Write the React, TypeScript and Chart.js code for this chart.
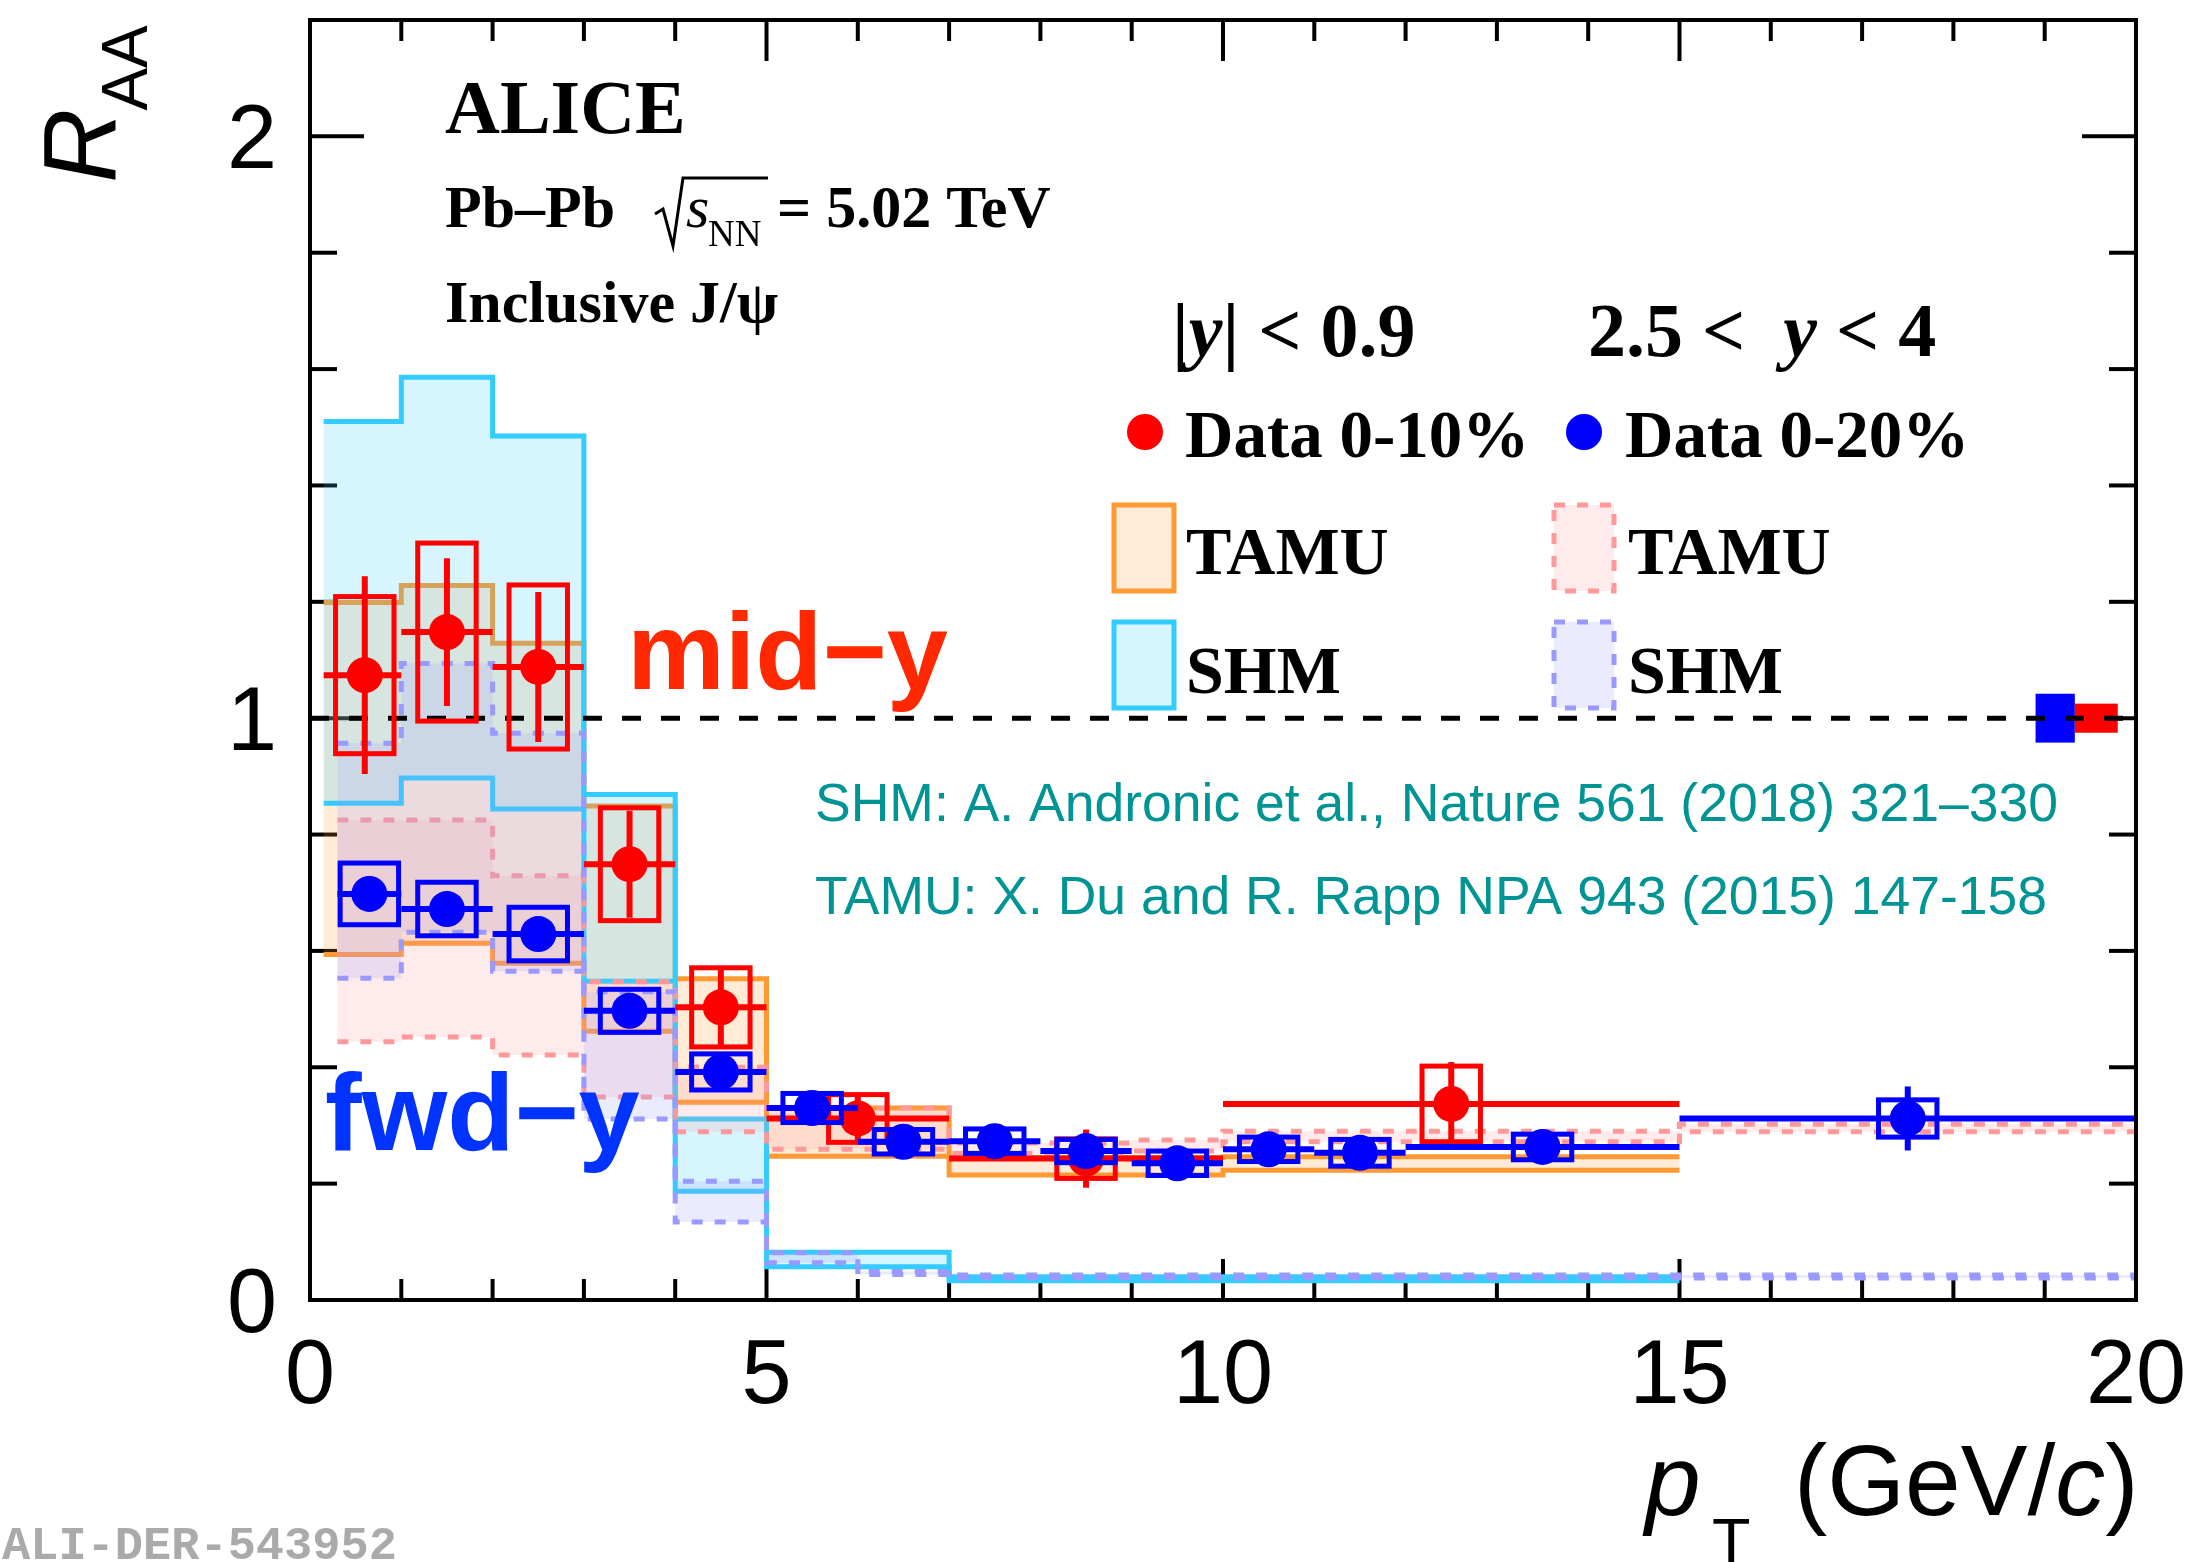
import React, { useEffect, useRef } from 'react';
import { Chart, registerables } from 'chart.js';

Chart.register(...registerables);

// ---------------- Axis ranges and tick labels ----------------
const xRange = [0, 20];
const yRange = [0, 2.2];
const xTickLabels = [0, 5, 10, 15, 20];
const yTickLabels = [0, 1, 2];
const xMinorStep = 1;
const yMinorStep = 0.2;

// ---------------- Data: mid-rapidity, 0-10% (red) ----------------
const midBinLo = [0.15, 1, 2, 3, 4, 5, 7, 10];
const midBinHi = [1, 2, 3, 4, 5, 7, 10, 15];
const midPt = [0.6, 1.5, 2.5, 3.5, 4.5, 6.0, 8.5, 12.5];
const midRaa = [1.074, 1.148, 1.088, 0.749, 0.503, 0.312, 0.243, 0.337];
const midStat = [0.17, 0.127, 0.129, 0.092, 0.066, 0.04, 0.05, 0.072];
const midSys = [0.135, 0.153, 0.141, 0.097, 0.068, 0.041, 0.034, 0.065];

// ---------------- Data: forward rapidity, 0-20% (blue) ----------------
const fwdBinLo = [0.3, 1, 2, 3, 4, 5, 6, 7, 8, 9, 10, 11, 12, 15];
const fwdBinHi = [1, 2, 3, 4, 5, 6, 7, 8, 9, 10, 11, 12, 15, 20];
const fwdPt = [0.65, 1.5, 2.5, 3.5, 4.5, 5.5, 6.5, 7.5, 8.5, 9.5, 10.5, 11.5, 13.5, 17.5];
const fwdRaa = [0.698, 0.672, 0.629, 0.497, 0.392, 0.33, 0.272, 0.273, 0.256, 0.235, 0.259, 0.253, 0.263, 0.312];
const fwdStat = [0.03, 0.025, 0.025, 0.02, 0.015, 0.012, 0.01, 0.01, 0.012, 0.012, 0.012, 0.014, 0.016, 0.055];
const fwdSys = [0.053, 0.046, 0.046, 0.037, 0.031, 0.025, 0.021, 0.021, 0.02, 0.021, 0.021, 0.023, 0.022, 0.032];
const sysBoxHalfWidth = 0.32;

// ---------------- Model bands ----------------
const tamuMidEdges = [0.15, 1, 2, 3, 4, 5, 7, 10, 15];
const tamuMidLo = [0.594, 0.613, 0.579, 0.462, 0.34, 0.247, 0.215, 0.223];
const tamuMidHi = [1.199, 1.228, 1.129, 0.849, 0.552, 0.33, 0.245, 0.246];

const shmMidEdges = [0.15, 1, 2, 3, 4, 5, 7, 15];
const shmMidLo = [0.854, 0.897, 0.844, 0.548, 0.187, 0.057, 0.033];
const shmMidHi = [1.51, 1.586, 1.485, 0.869, 0.311, 0.082, 0.04];

const tamuFwdEdges = [0.3, 1, 2, 3, 4, 5, 7, 9, 10, 15, 20];
const tamuFwdLo = [0.444, 0.452, 0.421, 0.349, 0.289, 0.259, 0.252, 0.256, 0.272, 0.289];
const tamuFwdHi = [0.825, 0.825, 0.729, 0.547, 0.4, 0.33, 0.27, 0.275, 0.29, 0.302];

const shmFwdEdges = [0.3, 1, 2, 3, 4, 5, 6, 7, 20];
const shmFwdLo = [0.553, 0.632, 0.565, 0.311, 0.134, 0.064, 0.044, 0.038];
const shmFwdHi = [0.957, 1.094, 0.974, 0.53, 0.204, 0.081, 0.049, 0.043];

// ---------------- Normalisation boxes at R_AA = 1 ----------------
const normBoxLo = [18.9, 19.33];
const normBoxHi = [19.33, 19.8];
const normBoxErr = [0.042, 0.025];

const RED = '#ff0000';
const BLUE = '#0000ff';
const SERIF = '"Liberation Serif", "Times New Roman", serif';
const SANS = '"Liberation Sans", Arial, sans-serif';

function drawBand(ctx: CanvasRenderingContext2D, xs: any, ys: any, edges: number[], lo: number[], hi: number[], stroke: string, fill: string, dash: number[]) {
  const px = (v: number) => xs.getPixelForValue(v);
  const py = (v: number) => ys.getPixelForValue(v);
  ctx.save();
  ctx.beginPath();
  for (let i = 0; i < hi.length; i++) {
    if (i === 0) ctx.moveTo(px(edges[i]), py(hi[i]));
    else ctx.lineTo(px(edges[i]), py(hi[i]));
    ctx.lineTo(px(edges[i + 1]), py(hi[i]));
  }
  for (let i = lo.length - 1; i >= 0; i--) {
    ctx.lineTo(px(edges[i + 1]), py(lo[i]));
    ctx.lineTo(px(edges[i]), py(lo[i]));
  }
  ctx.closePath();
  ctx.fillStyle = fill;
  ctx.fill();
  ctx.strokeStyle = stroke;
  ctx.lineWidth = 5;
  ctx.setLineDash(dash);
  for (const arr of [hi, lo]) {
    ctx.beginPath();
    for (let i = 0; i < arr.length; i++) {
      if (i === 0) ctx.moveTo(px(edges[i]), py(arr[i]));
      else ctx.lineTo(px(edges[i]), py(arr[i]));
      ctx.lineTo(px(edges[i + 1]), py(arr[i]));
    }
    ctx.stroke();
  }
  ctx.restore();
}

function line(ctx: CanvasRenderingContext2D, x0: number, y0: number, x1: number, y1: number) {
  ctx.beginPath();
  ctx.moveTo(x0, y0);
  ctx.lineTo(x1, y1);
  ctx.stroke();
}

type Part = { t: string; f: string; dy?: number; c?: string; gap?: number };
function runs(ctx: CanvasRenderingContext2D, x: number, y: number, parts: Part[]) {
  let cx = x;
  for (const p of parts) {
    ctx.font = p.f;
    ctx.fillStyle = p.c || '#000';
    ctx.fillText(p.t, cx, y + (p.dy || 0));
    cx += ctx.measureText(p.t).width + (p.gap || 0);
  }
  return cx;
}

const alicePlugin = {
  id: 'alicePlugin',
  beforeDatasetsDraw(chart: any) {
    const { ctx, chartArea: a } = chart;
    const xs = chart.scales.x;
    const ys = chart.scales.y;
    ctx.save();
    // ticks (inside the frame, all four sides)
    ctx.strokeStyle = '#000';
    ctx.lineWidth = 4;
    const nY = Math.round((yRange[1] - yRange[0]) / yMinorStep);
    for (let i = 0; i <= nY; i++) {
      const v = yRange[0] + i * yMinorStep;
      const major = yTickLabels.some((t) => Math.abs(t - v) < 1e-6);
      const len = major ? 54 : 27;
      const py = ys.getPixelForValue(v);
      line(ctx, a.left, py, a.left + len, py);
      line(ctx, a.right, py, a.right - len, py);
    }
    const nX = Math.round((xRange[1] - xRange[0]) / xMinorStep);
    for (let i = 0; i <= nX; i++) {
      const v = xRange[0] + i * xMinorStep;
      const major = xTickLabels.some((t) => Math.abs(t - v) < 1e-6);
      const len = major ? 41 : 21;
      const px = xs.getPixelForValue(v);
      line(ctx, px, a.bottom, px, a.bottom - len);
      line(ctx, px, a.top, px, a.top + len);
    }
    ctx.restore();

    // model bands
    drawBand(ctx, xs, ys, tamuMidEdges, tamuMidLo, tamuMidHi, '#ff9933', 'rgba(255,153,51,0.2)', []);
    drawBand(ctx, xs, ys, shmMidEdges, shmMidLo, shmMidHi, '#33ccff', 'rgba(51,204,255,0.2)', []);
    drawBand(ctx, xs, ys, tamuFwdEdges, tamuFwdLo, tamuFwdHi, '#ff9999', 'rgba(255,153,153,0.2)', [11, 12]);
    drawBand(ctx, xs, ys, shmFwdEdges, shmFwdLo, shmFwdHi, '#9999ff', 'rgba(153,153,255,0.2)', [11, 12]);

    // normalisation boxes
    ctx.save();
    const normColors = [BLUE, RED];
    for (let i = 0; i < normBoxLo.length; i++) {
      const x0 = xs.getPixelForValue(normBoxLo[i]);
      const x1 = xs.getPixelForValue(normBoxHi[i]);
      const y0 = ys.getPixelForValue(1 + normBoxErr[i]);
      const y1 = ys.getPixelForValue(1 - normBoxErr[i]);
      ctx.fillStyle = normColors[i];
      ctx.fillRect(x0, y0, x1 - x0, y1 - y0);
    }
    // dashed unity line
    ctx.strokeStyle = '#000';
    ctx.lineWidth = 5;
    ctx.setLineDash([19, 20]);
    const p1 = ys.getPixelForValue(1);
    line(ctx, a.left, p1, a.right, p1);
    ctx.restore();
  },
  beforeDatasetDraw(chart: any, args: any) {
    const { ctx } = chart;
    const xs = chart.scales.x;
    const ys = chart.scales.y;
    const isFwd = args.index === 0;
    const pt = isFwd ? fwdPt : midPt;
    const raa = isFwd ? fwdRaa : midRaa;
    const stat = isFwd ? fwdStat : midStat;
    const sys = isFwd ? fwdSys : midSys;
    const bLo = isFwd ? fwdBinLo : midBinLo;
    const bHi = isFwd ? fwdBinHi : midBinHi;
    const col = isFwd ? BLUE : RED;
    ctx.save();
    ctx.strokeStyle = col;
    for (let i = 0; i < pt.length; i++) {
      const x0 = xs.getPixelForValue(pt[i] - sysBoxHalfWidth);
      const x1 = xs.getPixelForValue(pt[i] + sysBoxHalfWidth);
      const yTop = ys.getPixelForValue(raa[i] + sys[i]);
      const yBot = ys.getPixelForValue(raa[i] - sys[i]);
      ctx.lineWidth = 5;
      ctx.strokeRect(x0, yTop, x1 - x0, yBot - yTop);
      ctx.lineWidth = 6;
      const pxc = xs.getPixelForValue(pt[i]);
      const pyc = ys.getPixelForValue(raa[i]);
      line(ctx, pxc, ys.getPixelForValue(raa[i] + stat[i]), pxc, ys.getPixelForValue(raa[i] - stat[i]));
      line(ctx, xs.getPixelForValue(bLo[i]), pyc, xs.getPixelForValue(bHi[i]), pyc);
    }
    ctx.restore();
  },
  afterDraw(chart: any) {
    const { ctx, chartArea: a } = chart;
    const xs = chart.scales.x;
    const ys = chart.scales.y;
    ctx.save();
    // frame
    ctx.strokeStyle = '#000';
    ctx.lineWidth = 4;
    ctx.strokeRect(a.left, a.top, a.right - a.left, a.bottom - a.top);

    // tick labels
    ctx.fillStyle = '#000';
    ctx.font = `90px ${SANS}`;
    ctx.textAlign = 'right';
    ctx.textBaseline = 'alphabetic';
    for (const v of yTickLabels) {
      ctx.fillText(String(v), 277, ys.getPixelForValue(v) + 32);
    }
    ctx.textAlign = 'center';
    for (const v of xTickLabels) {
      ctx.fillText(String(v), xs.getPixelForValue(v), 1403);
    }
    ctx.textAlign = 'left';

    // axis titles
    ctx.save();
    ctx.translate(116, 183);
    ctx.rotate(-Math.PI / 2);
    ctx.font = `italic 103px ${SANS}`;
    ctx.fillText('R', 0, 0);
    const wR = ctx.measureText('R').width;
    ctx.font = `64px ${SANS}`;
    ctx.fillText('AA', wR - 2, 31);
    ctx.restore();

    ctx.font = `italic 100px ${SANS}`;
    ctx.fillText('p', 1645, 1515);
    ctx.font = `63px ${SANS}`;
    ctx.fillText('T', 1712, 1562);
    runs(ctx, 1794, 1515, [
      { t: '(GeV/', f: `100px ${SANS}` },
      { t: 'c', f: `italic 100px ${SANS}` },
      { t: ')', f: `100px ${SANS}` },
    ]);

    // header texts
    ctx.font = `bold 76px ${SERIF}`;
    ctx.fillText('ALICE', 445, 133);
    ctx.font = `bold 60px ${SERIF}`;
    ctx.fillText('Pb\u2013Pb', 445, 227);
    // radical
    ctx.lineWidth = 3;
    ctx.beginPath();
    ctx.moveTo(655, 214);
    ctx.lineTo(663, 209);
    ctx.lineTo(673, 246);
    ctx.lineTo(683, 178);
    ctx.lineTo(768, 178);
    ctx.stroke();
    ctx.font = `italic 60px ${SERIF}`;
    ctx.fillText('s', 686, 227);
    ctx.font = `37px ${SERIF}`;
    ctx.fillText('NN', 708, 246);
    ctx.font = `bold 60px ${SERIF}`;
    ctx.fillText('= 5.02 TeV', 777, 227);
    ctx.fillText('Inclusive J/\u03c8', 445, 322);

    // rapidity labels
    runs(ctx, 1172, 356, [
      { t: '|', f: `bold 76px ${SERIF}` },
      { t: 'y', f: `italic bold 76px ${SERIF}` },
      { t: '| < 0.9', f: `bold 76px ${SERIF}` },
    ]);
    runs(ctx, 1588, 356, [
      { t: '2.5 <  ', f: `bold 76px ${SERIF}` },
      { t: 'y', f: `italic bold 76px ${SERIF}` },
      { t: ' < 4', f: `bold 76px ${SERIF}` },
    ]);

    // legend
    ctx.fillStyle = RED;
    ctx.beginPath();
    ctx.arc(1145, 432, 18, 0, Math.PI * 2);
    ctx.fill();
    ctx.fillStyle = BLUE;
    ctx.beginPath();
    ctx.arc(1584, 432, 18, 0, Math.PI * 2);
    ctx.fill();
    ctx.fillStyle = '#000';
    ctx.font = `bold 67px ${SERIF}`;
    ctx.fillText('Data 0-10%', 1185, 457);
    ctx.fillText('Data 0-20%', 1625, 457);

    const legBox = (x: number, y: number, stroke: string, fill: string, dash: number[]) => {
      ctx.save();
      ctx.fillStyle = fill;
      ctx.fillRect(x, y, 60, 86);
      ctx.strokeStyle = stroke;
      ctx.lineWidth = 5;
      ctx.setLineDash(dash);
      ctx.strokeRect(x, y, 60, 86);
      ctx.restore();
    };
    legBox(1114, 505, '#ff9933', 'rgba(255,153,51,0.2)', []);
    legBox(1554, 505, '#ff9999', 'rgba(255,153,153,0.2)', [11, 12]);
    legBox(1114, 622, '#33ccff', 'rgba(51,204,255,0.2)', []);
    legBox(1554, 622, '#9999ff', 'rgba(153,153,255,0.2)', [11, 12]);
    ctx.fillStyle = '#000';
    ctx.font = `bold 68px ${SERIF}`;
    ctx.fillText('TAMU', 1186, 574);
    ctx.fillText('TAMU', 1628, 574);
    ctx.fillText('SHM', 1186, 693);
    ctx.fillText('SHM', 1628, 693);

    // mid-y / fwd-y labels
    ctx.font = `bold 110px ${SANS}`;
    ctx.fillStyle = 'rgb(255,40,0)';
    ctx.fillText('mid\u2212y', 627, 689);
    ctx.fillStyle = 'rgb(0,51,255)';
    ctx.fillText('fwd\u2212y', 325, 1150);

    // references
    ctx.fillStyle = 'rgb(0,148,148)';
    ctx.font = `53.5px ${SANS}`;
    ctx.fillText('SHM: A. Andronic et al., Nature 561 (2018) 321\u2013330', 815, 821);
    ctx.fillText('TAMU: X. Du and R. Rapp NPA 943 (2015) 147-158', 815, 914);

    // figure id
    ctx.fillStyle = '#aaaaaa';
    ctx.font = `bold 47px "Liberation Mono", monospace`;
    ctx.fillText('ALI-DER-543952', 2, 1559);
    ctx.restore();
  },
};

export default function App() {
  const ref = useRef<HTMLCanvasElement | null>(null);
  useEffect(() => {
    document.body.style.margin = '0';
    document.body.style.overflow = 'hidden';
    const canvas = ref.current;
    if (!canvas) return;
    const chart = new Chart(canvas, {
      type: 'scatter',
      data: {
        datasets: [
          {
            label: 'Data 0-20% (2.5<y<4)',
            data: fwdPt.map((v, i) => ({ x: v, y: fwdRaa[i] })),
            pointRadius: 18,
            pointBackgroundColor: BLUE,
            pointBorderColor: BLUE,
            pointBorderWidth: 0,
            showLine: false,
            order: 0,
          },
          {
            label: 'Data 0-10% (|y|<0.9)',
            data: midPt.map((v, i) => ({ x: v, y: midRaa[i] })),
            pointRadius: 18,
            pointBackgroundColor: RED,
            pointBorderColor: RED,
            pointBorderWidth: 0,
            showLine: false,
            order: 1,
          },
        ],
      },
      options: {
        responsive: false,
        animation: false,
        events: [],
        layout: { padding: { left: 310, right: 56, top: 20, bottom: 262 } },
        scales: {
          x: { type: 'linear', min: xRange[0], max: xRange[1], display: false },
          y: { type: 'linear', min: yRange[0], max: yRange[1], display: false },
        },
        plugins: { legend: { display: false }, tooltip: { enabled: false } },
      },
      plugins: [alicePlugin],
    } as any);
    return () => chart.destroy();
  }, []);
  return (
    <div style={{ width: 2192, height: 1562, background: '#fff' }}>
      <canvas ref={ref} width={2192} height={1562} style={{ display: 'block', width: 2192, height: 1562 }} />
    </div>
  );
}
